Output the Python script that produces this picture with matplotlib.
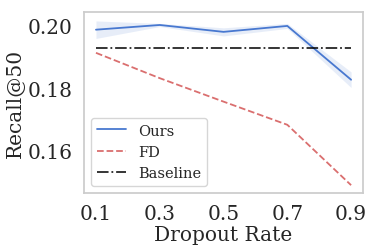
import matplotlib
matplotlib.use("Agg")
import matplotlib.pyplot as plt
import seaborn as sns
import numpy as np

sns.set_theme(style="white", palette="muted")
plt.rcParams['font.family'] = ['DejaVu Serif']

dropout = [0.1, 0.3, 0.5, 0.7, 0.9]
xticklabels = ["0.1", "0.3", "0.5", "0.7", "0.9"]
ours = [0.1987, 0.2002, 0.1980, 0.1999, 0.1827]
ours_lo = [0.1959, 0.1997, 0.1967, 0.1991, 0.1802]
ours_hi = [0.2015, 0.2007, 0.1993, 0.2007, 0.1852]
fd = [0.1913, 0.1832, 0.1757, 0.1683, 0.1490]
baseline = 0.1929

fig, ax = plt.subplots(figsize=(3.76, 2.53), dpi=100)
blue = "#4878d0"
red = "#d65f5f"
ax.plot(dropout, ours, color=blue, lw=1.3, label="Ours")
ax.fill_between(dropout, ours_lo, ours_hi, color=blue, alpha=0.13, lw=0)
ax.plot(dropout, fd, color=red, ls="--", lw=1.3, alpha=0.9, label="FD")
ax.plot([dropout[0], dropout[-1]], [baseline, baseline], color="black", ls="-.", lw=1.3, alpha=0.85, label="Baseline")

ax.set_xticks(dropout)
ax.set_xticklabels(xticklabels)
ax.set_yticks([0.16, 0.18, 0.20])
ax.set_yticklabels(["0.16", "0.18", "0.20"])
ax.set_ylim(0.1464, 0.2043)
ax.set_xlim(0.062, 0.938)
ax.tick_params(labelsize=14.5, pad=2)
ax.set_xlabel("Dropout Rate", fontsize=14.5, labelpad=1)
ax.set_ylabel("Recall@50", fontsize=14.5, labelpad=2)
for s in ax.spines.values():
    s.set_color("#cccccc")
ax.legend(loc="lower left", fontsize=10.5, frameon=True)

fig.subplots_adjust(left=0.223, right=0.966, top=0.948, bottom=0.232)
fig.savefig("out.png", dpi=100)
